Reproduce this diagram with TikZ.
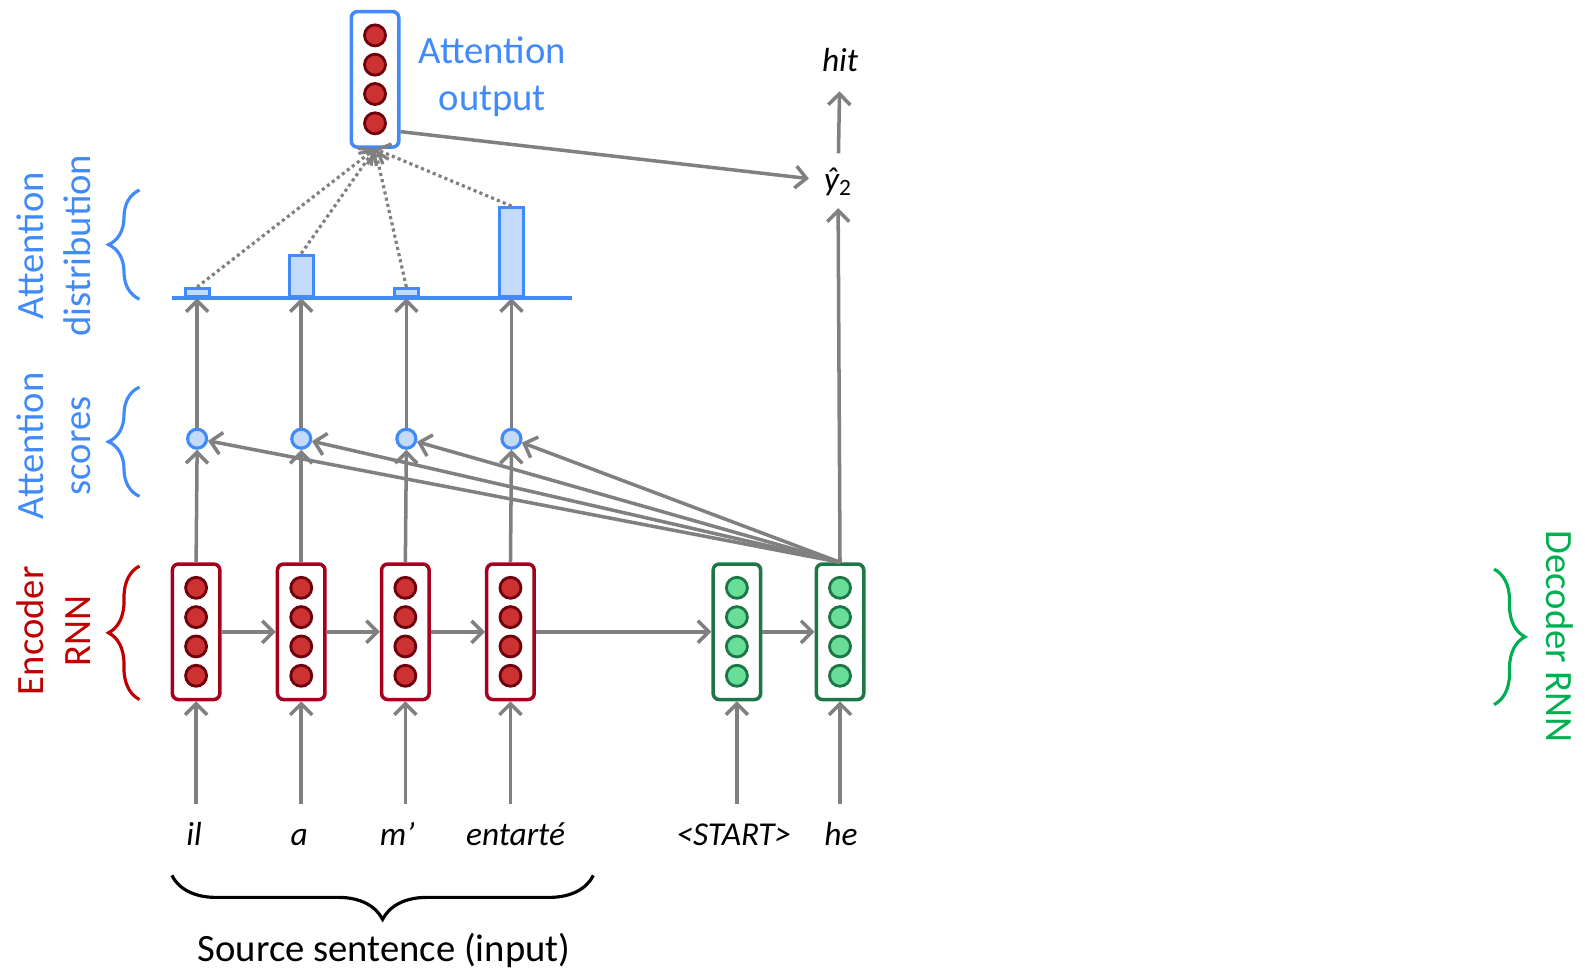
\documentclass[tikz,border=0pt]{standalone}
\usepackage{fontspec}
\setmainfont{Carlito}
\usetikzlibrary{arrows.meta,positioning,decorations.pathreplacing,calc}

\definecolor{attblue}{RGB}{64,138,250}
\definecolor{attfill}{RGB}{196,218,250}
\definecolor{encred}{RGB}{165,0,30}
\definecolor{enccell}{RGB}{204,50,50}
\definecolor{encdark}{RGB}{110,0,12}
\definecolor{enctext}{RGB}{192,0,0}
\definecolor{decgreen}{RGB}{28,118,70}
\definecolor{deccell}{RGB}{104,222,152}
\definecolor{dectext}{RGB}{0,176,80}
\definecolor{arrowgray}{RGB}{128,128,128}

\begin{document}
\begin{tikzpicture}[
  x=0.020216cm, y=-0.020216cm,
  >={Straight Barb[length=2.2mm,width=4.4mm]},
  flow/.style={->, draw=arrowgray, line width=2pt},
  dotflow/.style={->, draw=arrowgray, line width=1.8pt, dash pattern=on 1.8pt off 1.8pt},
  encbox/.style={draw=encred, line width=2pt, fill=white, rounded corners=3.5pt,
    minimum width=0.95cm, minimum height=2.71cm, inner sep=0pt},
  decbox/.style={encbox, draw=decgreen},
  attbox/.style={encbox, draw=attblue},
  enccircle/.style={circle, draw=encdark, fill=enccell, line width=1.6pt,
    minimum size=0.42cm, inner sep=0pt},
  deccircle/.style={enccircle, draw=decgreen, fill=deccell},
  score/.style={circle, draw=attblue, fill=attfill, line width=1.8pt,
    minimum size=0.38cm, inner sep=0pt},
  bar/.style={draw=attblue, fill=attfill, line width=1.8pt, minimum width=0.48cm,
    inner sep=0pt, anchor=south},
  word/.style={font=\fontsize{19}{22}\selectfont\itshape, text height=14pt,
    text depth=4pt, inner sep=0pt},
  label/.style={font=\fontsize{22}{27}\selectfont, align=center},
  brace/.style={decorate, decoration={brace, amplitude=0.62cm}, line width=1.8pt},
]
  \useasboundingbox (0,0) rectangle (1568,963);

  % Encoder states
  \foreach \i/\x in {1/194,2/298,3/401,4/505} {
    \node[encbox] (enc\i) at (\x,625) {};
    \foreach \dy in {-43.5,-14.5,14.5,43.5}
      \node[enccircle] at (\x,{625+\dy}) {};
  }

  % Decoder states
  \foreach \i/\x in {1/729,2/831} {
    \node[decbox] (dec\i) at (\x,625) {};
    \foreach \dy in {-43.5,-14.5,14.5,43.5}
      \node[deccircle] at (\x,{625+\dy}) {};
  }

  % Attention output
  \node[attbox] (att) at (371,78.5) {};
  \foreach \dy in {-43.5,-14.5,14.5,43.5}
    \node[enccircle] at (371,{78.5+\dy}) {};
  \node[label, text=attblue] (attlbl) at (487,76) {Attention\\output};

  % Scores and distribution
  \foreach \i/\x/\h in {1/195/0.16cm,2/298/0.83cm,3/402/0.16cm,4/506/1.78cm} {
    \node[score] (s\i) at (\x,434) {};
    \node[bar, minimum height=\h] (b\i) at (\x,295) {};
  }
  \draw[draw=attblue, line width=2pt] (170,295) -- (566,295);

  % Words
  \node[word] (w1) at (192,828) {il};
  \node[word] (w2) at (296,828) {a};
  \node[word] (w3) at (393,828) {m’};
  \node[word] (w4) at (510,828) {entarté};
  \node[word] (w5) at (726,828) {<START>};
  \node[word] (w6) at (832,828) {he};
  \node[word] (yhat) at (829,180) {ŷ\textsubscript{\upshape 2}};
  \node[word] (hit) at (831,62) {hit};

  % Input arrows
  \foreach \i in {1,...,4}
    \draw[flow, shorten <=0.34cm] (enc\i.south |- w\i.north) -- (enc\i.south);
  \draw[flow, shorten <=0.34cm] (dec1.south |- w5.north) -- (dec1.south);
  \draw[flow, shorten <=0.34cm] (dec2.south |- w6.north) -- (dec2.south);

  % Recurrent arrows
  \draw[flow] (enc1) -- (enc2);
  \draw[flow] (enc2) -- (enc3);
  \draw[flow] (enc3) -- (enc4);
  \draw[flow] (enc4) -- (dec1);
  \draw[flow] (dec1) -- (dec2);

  % Scores
  \foreach \i in {1,...,4} {
    \draw[flow] (enc\i.north) -- (s\i.south);
    \draw[flow] (s\i.north) -- (b\i.south);
    \draw[flow] (dec2.north) -- (s\i);
    \draw[dotflow] (b\i.north) -- (att.south);
  }

  % Output
  \draw[flow, shorten >=0.3cm] (att.-64) -- (yhat);
  \draw[flow, shorten >=0.2cm] (dec2.north) -- (yhat);
  \draw[flow, shorten <=0.25cm, shorten >=0.25cm] (yhat) -- (hit);

  % Braces
  \draw[brace, draw=attblue] (138,296) -- (138,188);
  \draw[brace, draw=attblue] (138,491) -- (138,383);
  \draw[brace, draw=enctext] (138,692) -- (138,560);
  \draw[brace, draw=dectext] (1478,563) -- (1478,697);
  \draw[brace, decoration={amplitude=0.88cm}] (587,866) -- (170,866);

  % Labels
  \node[label, text=attblue, rotate=90] (distlbl) at (53,243) {Attention\\distribution};
  \node[label, text=attblue, rotate=90] (scorelbl) at (53,441) {Attention\\scores};
  \node[label, text=enctext, rotate=90] (enclbl) at (53,624) {Encoder\\RNN};
  \node[label, text=dectext, rotate=-90] (declbl) at (1543,630) {Decoder RNN};
  \node[label] (srclbl) at (380,940) {Source sentence (input)};
\end{tikzpicture}
\end{document}
